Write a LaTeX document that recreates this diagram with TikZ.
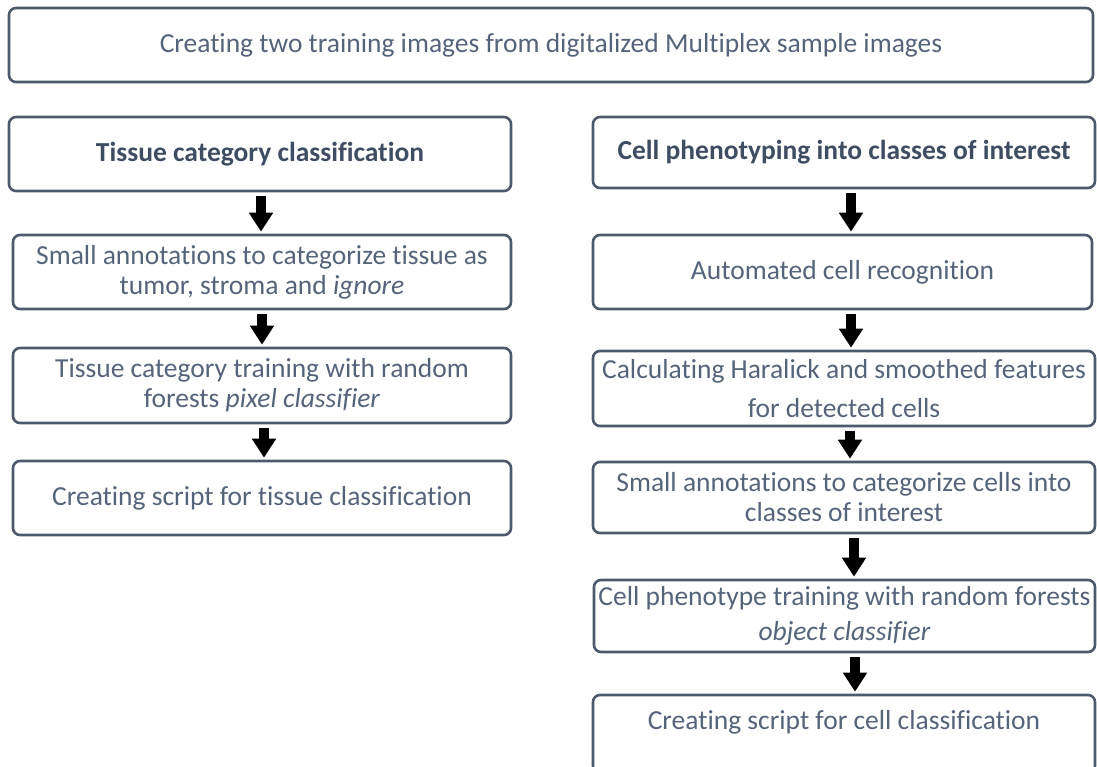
\documentclass[tikz,border=0pt]{standalone}
\usepackage{fontspec}
\setmainfont{Carlito}[Ligatures=NoCommon]
\usetikzlibrary{arrows.meta}
\definecolor{boxc}{HTML}{4E5A6C}
\definecolor{txtc}{HTML}{56647B}
\definecolor{txtb}{HTML}{3F4D63}
\tikzset{
  stepbox/.style={draw=boxc, line width=2.6pt, rounded corners=7pt, fill=white,
    inner sep=0pt, text=txtc, align=center, font=\fontsize{27.5}{30}\selectfont},
  headbox/.style={stepbox, text=txtb, font=\fontsize{27.5}{30}\selectfont\bfseries},
  plaintext/.style={inner sep=0pt, text=txtc, align=center, font=\fontsize{27.5}{30}\selectfont},
  blockarrow/.style={line width=10pt, draw=black, shorten <=4pt, shorten >=2pt,
    -{Triangle[width=23pt,length=19pt]}},
}
\begin{document}
\begin{tikzpicture}[x=1pt,y=-1pt]
\useasboundingbox (0,0) rectangle (1097,766);
\clip (0,0) rectangle (1097,766);
\fill[white] (0,0) rectangle (1097,766);

% top
\node[stepbox, minimum width=1084pt, minimum height=74pt] (top) at (551,45)
  {Creating two training images from digitalized Multiplex sample images};

% left column
\node[headbox, minimum width=502pt, minimum height=74pt] (L1) at (260,154)
  {Tissue category classification};
\node[stepbox, minimum width=498pt, minimum height=74pt] (L2) at (262,272)
  {Small annotations to categorize tissue as\\tumor, stroma and \textit{ignore}};
\node[stepbox, minimum width=498pt, minimum height=75pt] (L3) at (262,385.5)
  {Tissue category training with random\\forests \textit{pixel classifier}};
\node[stepbox, minimum width=498pt, minimum height=74pt] (L4) at (262,498)
  {Creating script for tissue classification};

% right column
\node[headbox, minimum width=502pt, minimum height=71pt] (R1) at (844,152.5)
  {Cell phenotyping into classes of interest};
\node[stepbox, minimum width=499pt, minimum height=74pt] (R2) at (842.5,272)
  {Automated cell recognition};
\node[stepbox, minimum width=502pt, minimum height=75pt] (R3) at (844,388.5)
  {Calculating Haralick and smoothed features\\[9pt]for detected cells};
\node[stepbox, minimum width=502pt, minimum height=71pt] (R4) at (844,497.5)
  {Small annotations to categorize cells into\\classes of interest};
\node[stepbox, minimum width=501pt, minimum height=72pt] (R5) at (844.5,616)
  {Cell phenotype training with random forests\\[5pt]\textit{object classifier}};
\node[stepbox, minimum width=502pt, minimum height=78pt] (R6) at (844,734) {};
\node[plaintext] (R6t) at (844,722) {Creating script for cell classification};

% arrow columns
\coordinate (a1) at (261,0);
\coordinate (a2) at (262,0);
\coordinate (a3) at (264,0);
\coordinate (b1) at (851,0);
\coordinate (b2) at (851,0);
\coordinate (b3) at (850,0);
\coordinate (b4) at (854,0);
\coordinate (b5) at (855,0);

\draw[blockarrow] (L1.south -| a1) -- (L2.north -| a1);
\draw[blockarrow] (L2.south -| a2) -- (L3.north -| a2);
\draw[blockarrow] (L3.south -| a3) -- (L4.north -| a3);
\draw[blockarrow] (R1.south -| b1) -- (R2.north -| b1);
\draw[blockarrow] (R2.south -| b2) -- (R3.north -| b2);
\draw[blockarrow] (R3.south -| b3) -- (R4.north -| b3);
\draw[blockarrow] (R4.south -| b4) -- (R5.north -| b4);
\draw[blockarrow] (R5.south -| b5) -- (R6.north -| b5);
\end{tikzpicture}
\end{document}
